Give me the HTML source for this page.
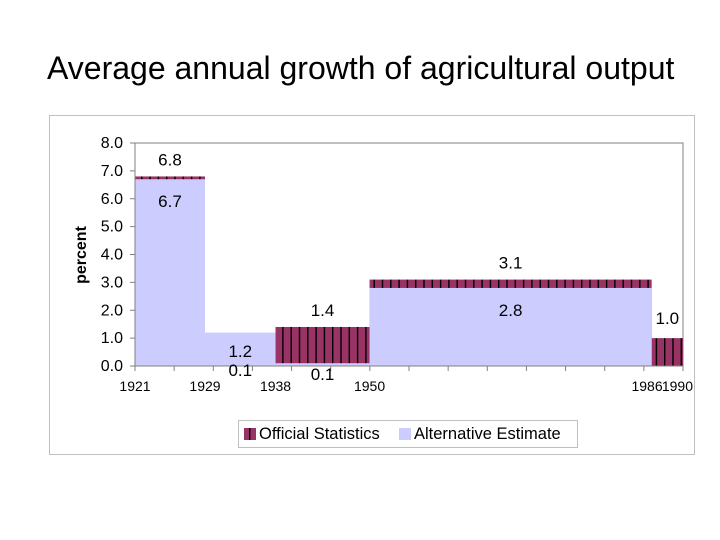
<!DOCTYPE html>
<html><head><meta charset="utf-8"><style>
body{margin:0;background:#fff;width:720px;height:540px;overflow:hidden;font-family:"Liberation Sans",sans-serif}
</style></head><body>
<div style="position:absolute;left:47px;top:50px;font-size:32px;color:#000;white-space:nowrap">Average annual growth of agricultural output</div>
<svg id="c" width="720" height="540" style="position:absolute;left:0;top:0">
<defs><pattern id="stripe" width="8.3" height="10" patternUnits="userSpaceOnUse"><rect width="8.3" height="10" fill="#993366"/><rect width="1.4" height="10" fill="#000"/></pattern></defs>
<rect x="49.5" y="115.5" width="645" height="339" fill="#fff" stroke="#c0c0c0"/>
</svg>
<script>
const years=[1921,1929,1938,1950,1986,1990];
const official=[6.8,0.1,1.4,3.1,1.0];
const alternative=[6.7,1.2,0.1,2.8,null];
const yTicks=[0,1,2,3,4,5,6,7,8];
const svg=document.getElementById('c');const NS='http://www.w3.org/2000/svg';
const X0=135,X1=683,Y0=366,Y1=143;
const XB=205;
const xs=y=>y<=1929?X0+(y-1921)/(1929-1921)*(XB-X0):XB+(y-1929)/(1990-1929)*(X1-XB);
const ys=v=>Y0-v/8*(Y0-Y1);
function el(t,a,txt){const e=document.createElementNS(NS,t);for(const k in a)e.setAttribute(k,a[k]);if(txt!=null)e.textContent=txt;svg.appendChild(e);return e;}
let e=el('rect',{x:X0,y:Y1,width:X1-X0,height:Y0-Y1,fill:'#fff',stroke:'#808080'});

for(let i=0;i<official.length;i++){
 const x=xs(years[i]),w=xs(years[i+1])-x;
 e=el('rect',{x:x,y:ys(official[i]),width:w,height:Y0-ys(official[i]),fill:'url(#stripe)'});
 
}
for(let i=0;i<alternative.length;i++){
 if(alternative[i]==null)continue;
 const x=xs(years[i]),w=xs(years[i+1])-x;
 e=el('rect',{x:x,y:ys(alternative[i]),width:w,height:Y0-ys(alternative[i]),fill:'#ccccff'});
 
}
e=el('line',{x1:X0,y1:Y1,x2:X0,y2:Y0,stroke:'#808080'});
e=el('line',{x1:X0,y1:Y0,x2:X1,y2:Y0,stroke:'#808080'});
yTicks.forEach(v=>{el('line',{x1:X0-5,y1:ys(v),x2:X0,y2:ys(v),stroke:'#808080'});
 e=el('text',{x:X0-12,y:ys(v)+5,'text-anchor':'end','font-size':16},v.toFixed(1));
 });
for(let k=0;k<=14;k++){const x=X0+k*(X1-X0)/14;el('line',{x1:x,y1:Y0,x2:x,y2:Y0+5,stroke:'#808080'});}
for(let i=0;i<official.length;i++){
 const cx=(xs(years[i])+xs(years[i+1]))/2;
 let oy=official[i]>=(alternative[i]||0)?ys(official[i])-11:ys(official[i])+16;
 if(i==1)oy=ys(0)+10;
 if(i==4)oy=ys(official[i])-14;
 e=el('text',{x:cx,y:oy,'text-anchor':'middle','font-size':17},official[i].toFixed(1));
 
 if(alternative[i]!=null){
  let ay=ys(alternative[i])+28;
  if(i==1)ay=ys(0)-9;
  if(i==2)ay=ys(0)+14;
  e=el('text',{x:cx,y:ay,'text-anchor':'middle','font-size':17},alternative[i].toFixed(1));
  
 }
}
years.forEach((y,i)=>{const a=i>=4?'end':'middle';const dx=i==4?11:(i==5?10:0);
 e=el('text',{x:xs(y)+dx,y:Y0+25,'text-anchor':a,'font-size':14},String(y));
 });
e=el('text',{x:0,y:0,'font-size':16,'font-weight':'bold','text-anchor':'middle',transform:'translate(86,255) rotate(-90)'},'percent');

e=el('rect',{x:238.5,y:420.5,width:339,height:27,fill:'#fff',stroke:'#c0c0c0'});
e=el('rect',{x:244,y:428,width:12,height:12,fill:'url(#stripe)'});
e=el('text',{x:259,y:439,'font-size':16.5},'Official Statistics');
e=el('rect',{x:399,y:428,width:12,height:12,fill:'#ccccff'});
e=el('text',{x:414,y:439,'font-size':16.5},'Alternative Estimate');
</script>
</body></html>
